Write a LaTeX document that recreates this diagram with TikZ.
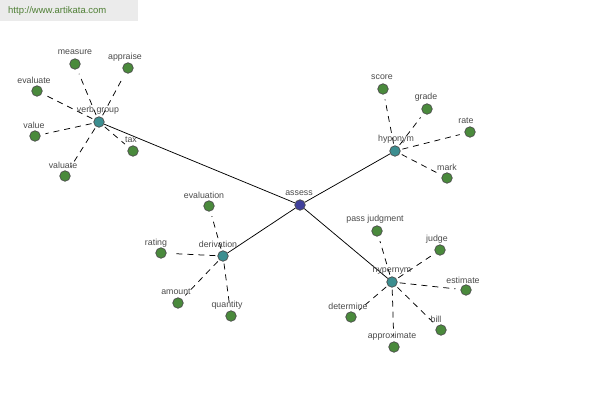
\documentclass[tikz,border=0pt]{standalone}
\usepackage{fontspec}
\setmainfont{Liberation Sans}
\definecolor{leafc}{HTML}{4A8A3C}
\definecolor{hubc}{HTML}{3C8E90}
\definecolor{rootc}{HTML}{40409C}
\definecolor{txtc}{HTML}{4A4A4A}
\definecolor{bannerc}{HTML}{EBEBEB}
\definecolor{urlc}{HTML}{4F7F35}
\begin{document}
\begin{tikzpicture}[x=1pt,y=-1pt,
  leaf/.style={circle,draw=black!70,line width=0.7pt,fill=leafc,minimum size=10.5pt,inner sep=0pt},
  hub/.style={circle,draw=black!70,line width=0.7pt,fill=hubc,minimum size=10.5pt,inner sep=0pt},
  root/.style={circle,draw=black!70,line width=0.7pt,fill=rootc,minimum size=10.5pt,inner sep=0pt},
  lab/.style={text=txtc,font=\fontsize{8.8}{10}\selectfont,inner sep=0pt},
  dashlink/.style={draw=black,line width=0.75pt,dash pattern=on 6pt off 5pt,shorten >=5pt,shorten <=2pt},
  solidlink/.style={draw=black,line width=0.75pt}]
\useasboundingbox (0,0) rectangle (600,400);
\fill[bannerc] (0,0) rectangle (138,21);
\node[text=urlc,font=\fontsize{9.5}{10}\selectfont,anchor=west,inner sep=0pt] (url) at (8,11) {http://www.artikata.com};
% root and hubs
\node[root] (assess) at (300,205) {};
\node[hub] (vg) at (99,122) {};
\node[hub] (hypo) at (395,151) {};
\node[hub] (deriv) at (223,256) {};
\node[hub] (hyper) at (392,282) {};
% leaves
\node[leaf] (measure) at (75,64) {};
\node[leaf] (appraise) at (128,68) {};
\node[leaf] (evaluate) at (37,91) {};
\node[leaf] (value) at (35,136) {};
\node[leaf] (valuate) at (65,176) {};
\node[leaf] (tax) at (133,151) {};
\node[leaf] (score) at (383,89) {};
\node[leaf] (grade) at (427,109) {};
\node[leaf] (rate) at (470,132) {};
\node[leaf] (mark) at (447,178) {};
\node[leaf] (evaluation) at (209,206) {};
\node[leaf] (rating) at (161,253) {};
\node[leaf] (amount) at (178,303) {};
\node[leaf] (quantity) at (231,316) {};
\node[leaf] (pass) at (377,231) {};
\node[leaf] (judge) at (440,250) {};
\node[leaf] (estimate) at (466,290) {};
\node[leaf] (determine) at (351,317) {};
\node[leaf] (bill) at (441,330) {};
\node[leaf] (approx) at (394,347) {};
% connectors
\draw[solidlink] (assess) -- (vg);
\draw[solidlink] (assess) -- (hypo);
\draw[solidlink] (assess) -- (deriv);
\draw[solidlink] (assess) -- (hyper);
\foreach \l in {measure,appraise,evaluate,value,valuate,tax}
  \draw[dashlink] (vg) -- (\l);
\foreach \l in {score,grade,rate,mark}
  \draw[dashlink] (hypo) -- (\l);
\foreach \l in {evaluation,rating,amount,quantity}
  \draw[dashlink] (deriv) -- (\l);
\foreach \l in {pass,judge,estimate,determine,bill,approx}
  \draw[dashlink] (hyper) -- (\l);
% labels
\node[lab] (l-assess) at (299,193) {assess};
\node[lab] (l-vg) at (98,110) {verb group};
\node[lab] (l-hypo) at (396,139) {hyponym};
\node[lab] (l-deriv) at (218,244) {derivation};
\node[lab] (l-hyper) at (392,270) {hypernym};
\node[lab] (l-measure) at (75,52) {measure};
\node[lab] (l-appraise) at (125,57) {appraise};
\node[lab] (l-evaluate) at (34,80) {evaluate};
\node[lab] (l-value) at (34,125) {value};
\node[lab] (l-valuate) at (63,165) {valuate};
\node[lab] (l-tax) at (131,140) {tax};
\node[lab] (l-score) at (382,77) {score};
\node[lab] (l-grade) at (426,97) {grade};
\node[lab] (l-rate) at (466,121) {rate};
\node[lab] (l-mark) at (447,167) {mark};
\node[lab] (l-evaluation) at (204,195) {evaluation};
\node[lab] (l-rating) at (156,243) {rating};
\node[lab] (l-amount) at (176,292) {amount};
\node[lab] (l-quantity) at (227,305) {quantity};
\node[lab] (l-pass) at (375,219) {pass judgment};
\node[lab] (l-judge) at (437,239) {judge};
\node[lab] (l-estimate) at (463,280) {estimate};
\node[lab] (l-determine) at (348,306) {determine};
\node[lab] (l-bill) at (436,319) {bill};
\node[lab] (l-approx) at (392,336) {approximate};
\end{tikzpicture}
\end{document}
